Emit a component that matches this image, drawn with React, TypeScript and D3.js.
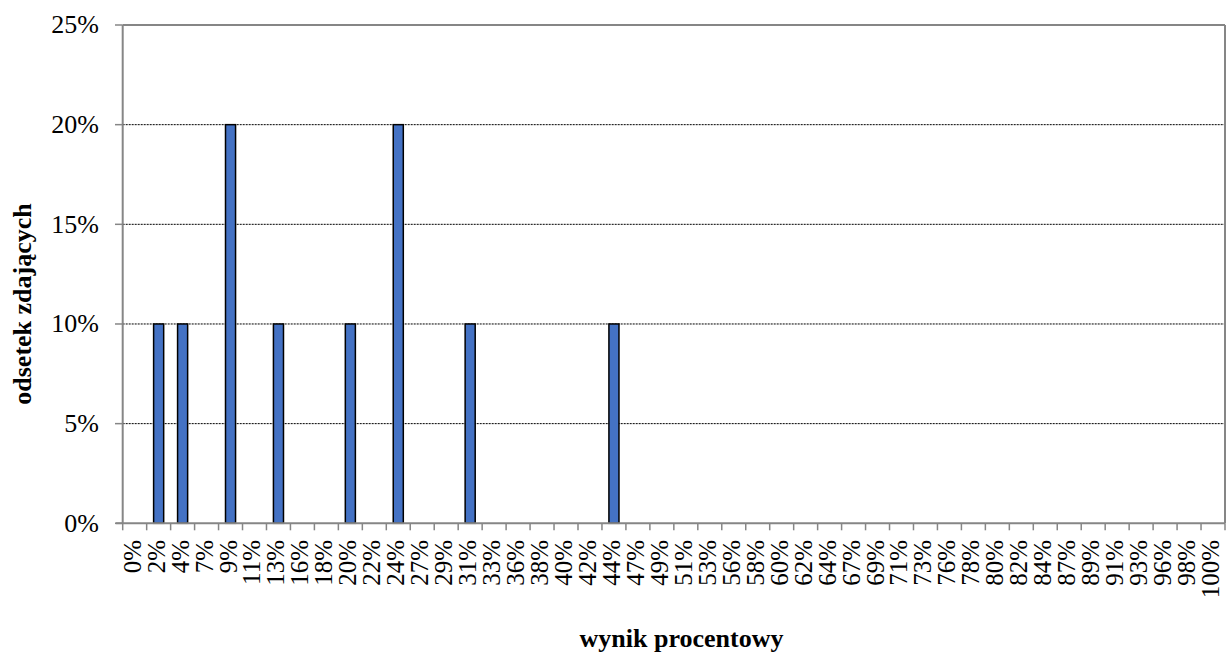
import React from "react";
import * as d3 from "d3";

const categories: string[] = [
  "0%", "2%", "4%", "7%", "9%", "11%", "13%", "16%", "18%", "20%", "22%", "24%",
  "27%", "29%", "31%", "33%", "36%", "38%", "40%", "42%", "44%", "47%", "49%",
  "51%", "53%", "56%", "58%", "60%", "62%", "64%", "67%", "69%", "71%", "73%",
  "76%", "78%", "80%", "82%", "84%", "87%", "89%", "91%", "93%", "96%", "98%", "100%",
];
const values: number[] = [
  0, 10, 10, 0, 20, 0, 10, 0, 0, 10, 0, 20,
  0, 0, 10, 0, 0, 0, 0, 0, 10, 0, 0,
  0, 0, 0, 0, 0, 0, 0, 0, 0, 0, 0,
  0, 0, 0, 0, 0, 0, 0, 0, 0, 0, 0, 0,
];
const yTicks: number[] = [0, 5, 10, 15, 20, 25];
const yTitle = "odsetek zdających";
const xTitle = "wynik procentowy";

const W = 1226;
const H = 655;
const left = 122.7;
const right = 1225;
const top = 25;
const bottom = 523.3;
const FONT = "'Liberation Serif', 'Times New Roman', serif";
const AXIS = "#868686";

export default function App() {
  const x = d3
    .scaleBand<string>()
    .domain(categories)
    .range([left, right])
    .paddingInner(0.58)
    .paddingOuter(0.29);
  const step = x.step();
  const y = d3.scaleLinear().domain([0, 25]).range([bottom, top]);

  return (
    <svg
      width={W}
      height={H}
      style={{ position: "absolute", left: 0, top: 0, background: "#fff" }}
      fontFamily={FONT}
    >
      <rect x={0} y={0} width={W} height={H} fill="#fff" />
      {/* gridlines */}
      {yTicks
        .filter((t) => t > 0 && t < 25)
        .map((t) => (
          <line
            key={"g" + t}
            x1={left}
            x2={right}
            y1={y(t)}
            y2={y(t)}
            stroke="#000"
            strokeWidth={1}
            strokeDasharray="2,1"
          />
        ))}
      {/* frame */}
      <line x1={left} x2={right} y1={top} y2={top} stroke={AXIS} strokeWidth={2} />
      <line x1={right} x2={right} y1={top} y2={bottom} stroke={AXIS} strokeWidth={2} />
      {/* bars */}
      {categories.map((c, i) =>
        values[i] > 0 ? (
          <rect
            key={"b" + c}
            x={x(c)!}
            y={y(values[i])}
            width={x.bandwidth()}
            height={y(0) - y(values[i])}
            fill="#4472C4"
            stroke="#000"
            strokeWidth={1.5}
          />
        ) : null
      )}
      {/* y axis */}
      <line x1={left} x2={left} y1={top} y2={bottom} stroke={AXIS} strokeWidth={2} />
      {yTicks.map((t) => (
        <g key={"y" + t}>
          <line x1={115} x2={left} y1={y(t)} y2={y(t)} stroke={AXIS} strokeWidth={1.5} />
          <text x={99} y={y(t)} dy="0.32em" textAnchor="end" fontSize={26} fill="#000">
            {t + "%"}
          </text>
        </g>
      ))}
      {/* x axis */}
      <line x1={left - 7} x2={right} y1={bottom} y2={bottom} stroke={AXIS} strokeWidth={2} />
      {d3.range(categories.length + 1).map((k) => (
        <line
          key={"xt" + k}
          x1={left + k * step}
          x2={left + k * step}
          y1={bottom}
          y2={bottom + 7}
          stroke={AXIS}
          strokeWidth={1.5}
        />
      ))}
      {categories.map((c) => {
        const cx = x(c)! + x.bandwidth() / 2;
        return (
          <text
            key={"xl" + c}
            transform={`translate(${cx + 6},540) rotate(-90)`}
            textAnchor="end"
            fontSize={25}
            fill="#000"
          >
            {c}
          </text>
        );
      })}
      {/* titles */}
      <text
        transform={`translate(31,304) rotate(-90)`}
        textAnchor="middle"
        fontSize={26}
        fontWeight="bold"
        fill="#000"
      >
        {yTitle}
      </text>
      <text x={681.5} y={647} textAnchor="middle" fontSize={26} fontWeight="bold" fill="#000">
        {xTitle}
      </text>
    </svg>
  );
}
